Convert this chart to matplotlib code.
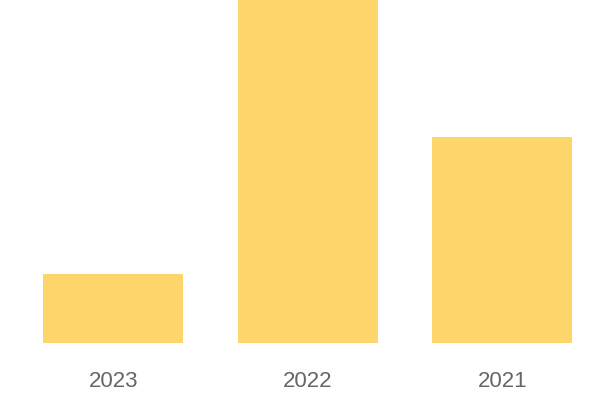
import matplotlib
matplotlib.use("Agg")
import matplotlib.pyplot as plt

years = ["2023", "2022", "2021"]
values = [20, 100, 60]

fig = plt.figure(figsize=(6, 4), dpi=100)
ax = fig.add_axes([16 / 600, 57 / 400, 583.5 / 600, 343 / 400])

ax.bar(range(len(years)), values, width=0.72, color="#FDD56A")
ax.set_xlim(-0.5, len(years) - 0.5)
ax.set_ylim(0, max(values))

ax.set_xticks(range(len(years)))
ax.set_xticklabels(years, fontsize=16, color="#666666", family="Liberation Sans")
ax.tick_params(axis="x", length=0, pad=20)
ax.set_yticks([])
for s in ax.spines.values():
    s.set_visible(False)

fig.savefig("out.png", dpi=100, facecolor="white")
